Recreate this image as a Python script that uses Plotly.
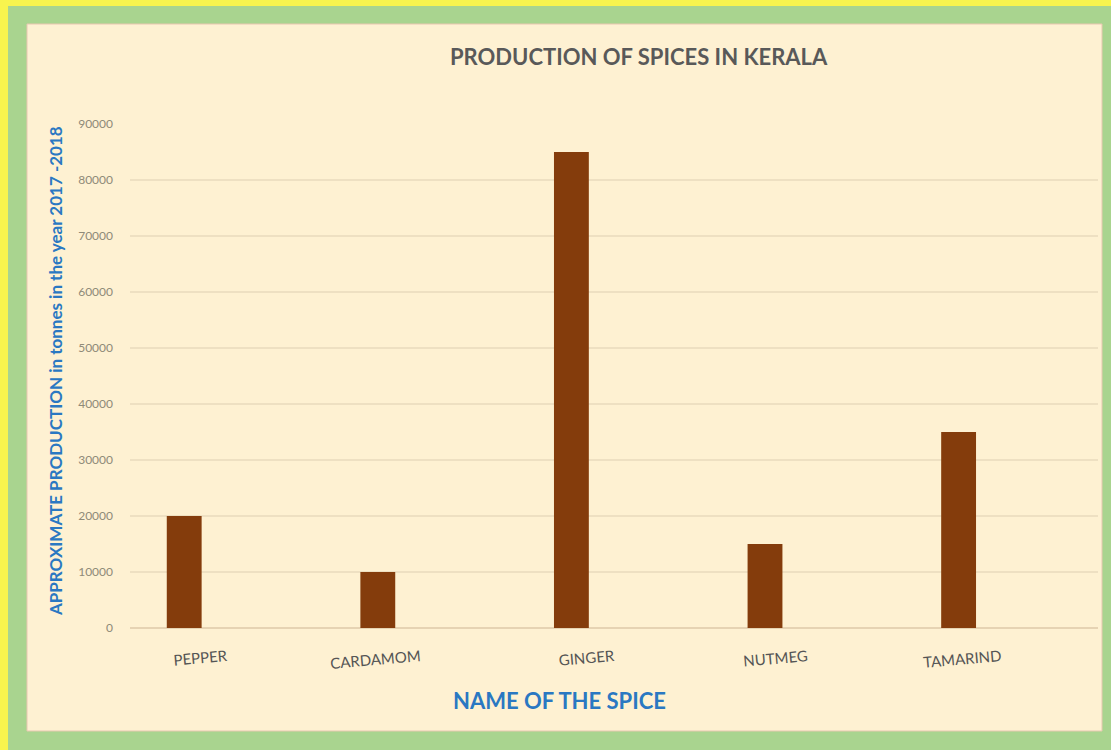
import plotly.graph_objects as go

spices = ["PEPPER", "CARDAMOM", "GINGER", "NUTMEG", "TAMARIND"]
production = [20000, 10000, 85000, 15000, 35000]
y_ticks = [0, 10000, 20000, 30000, 40000, 50000, 60000, 70000, 80000, 90000]
y_tick_text = [str(v) for v in y_ticks]

W, H = 1111, 750
L, R, T, B = 130, 1098, 124, 628
pw, ph = R - L, B - T
label_offset = 0.22  # rotated labels are end-anchored right of the bar

def px(x):
    return (x - L) / pw

def py(y):
    return (B - y) / ph

cats = list(range(len(spices)))

fig = go.Figure()
fig.add_trace(go.Bar(
    x=cats, y=production, width=0.18,
    marker=dict(color="#843C0C", line=dict(width=0)),
    hoverinfo="skip",
))

font = "Lato, Open Sans, sans-serif"

fig.update_layout(
    width=W, height=H,
    margin=dict(l=L, r=W - R, t=T, b=H - B),
    paper_bgcolor="#F8F44E",
    plot_bgcolor="rgba(0,0,0,0)",
    showlegend=False,
    font=dict(family=font),
    xaxis=dict(
        range=[-0.28, 4.72],
        tickmode="array", tickvals=[c + label_offset for c in cats], ticktext=spices,
        tickangle=-5,
        tickfont=dict(size=15, color="#555555", family=font),
        showgrid=False, zeroline=False, showline=False,
        ticks="", ticklabelstandoff=17,
    ),
    yaxis=dict(
        range=[0, 90000],
        tickmode="array", tickvals=y_ticks, ticktext=y_tick_text,
        tickfont=dict(size=12, color="#8F8A78", family=font),
        showgrid=True, gridcolor="#EEE0C2", gridwidth=1.5,
        zeroline=True, zerolinecolor="#E6D3B3", zerolinewidth=1.5,
        showline=False, ticks="", ticklabelstandoff=16,
    ),
    shapes=[
        dict(type="rect", xref="paper", yref="paper", layer="below",
             x0=px(8), x1=px(1111), y0=py(750), y1=py(6),
             fillcolor="#A9D48F", line=dict(width=0)),
        dict(type="rect", xref="paper", yref="paper", layer="below",
             x0=px(27), x1=px(1102), y0=py(731), y1=py(24),
             fillcolor="#FEF1D2", line=dict(width=1, color="#E8C7B0")),
    ],
    annotations=[
        dict(text="<b>PRODUCTION OF SPICES IN KERALA</b>", xref="paper", yref="paper",
             x=px(639), y=py(56), xanchor="center", yanchor="middle", showarrow=False,
             font=dict(size=22, color="#595959", family=font)),
        dict(text="<b>NAME OF THE SPICE</b>", xref="paper", yref="paper",
             x=px(559), y=py(700), xanchor="center", yanchor="middle", showarrow=False,
             font=dict(size=22, color="#2A78C2", family=font)),
        dict(text="<b>APPROXIMATE PRODUCTION in tonnes in the year 2017 -2018</b>",
             xref="paper", yref="paper", textangle=-90,
             x=px(55), y=py(371), xanchor="center", yanchor="middle", showarrow=False,
             font=dict(size=17, color="#2A78C2", family=font)),
    ],
)

fig.write_html("out.html", config={"displayModeBar": False},
               post_script="document.body.style.margin='0';")
